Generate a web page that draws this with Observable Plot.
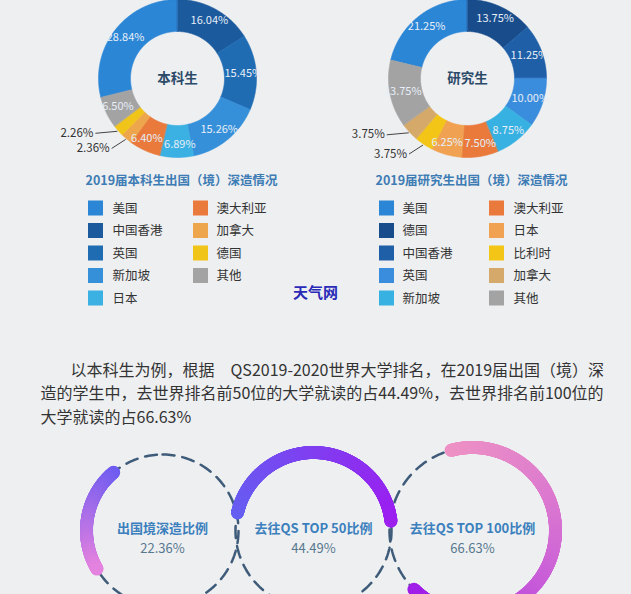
<!DOCTYPE html>
<html><head><meta charset="utf-8">
<script src="https://cdn.jsdelivr.net/npm/d3@7"></script>
<script src="https://cdn.jsdelivr.net/npm/@observablehq/plot@0.6"></script>
<style>
html,body{margin:0;padding:0;background:#eeeff1;overflow:hidden;}
</style>
</head><body><div id="chart"></div>
<script>
// ---------------- data ----------------
const ugCategories = ["美国","中国香港","英国","新加坡","日本","澳大利亚","加拿大","德国","其他"];
const ugValues = [28.84,16.04,15.45,15.26,6.89,6.40,2.36,2.26,6.50];
const pgCategories = ["美国","德国","中国香港","英国","新加坡","澳大利亚","日本","比利时","加拿大","其他"];
const pgValues = [21.25,13.75,11.25,10.00,8.75,7.50,6.25,3.75,3.75,13.75];
const donutTitles = ["本科生","研究生"];
const legendTitles = ["2019届本科生出国（境）深造情况","2019届研究生出国（境）深造情况"];
const paragraphLines = [
  "以本科生为例，根据　QS2019-2020世界大学排名，在2019届出国（境）深",
  "造的学生中，去世界排名前50位的大学就读的占44.49%，去世界排名前100位的",
  "大学就读的占66.63%"
];
const ratioLabels = ["出国境深造比例","去往QS TOP 50比例","去往QS TOP 100比例"];
const ratioValues = [22.36,44.49,66.63];
const watermark = ["天气网"];

// ---------------- styles ----------------
const ugColors = ["#2c86d6","#1b5a9d","#1f6cb3","#3590d9","#3bb0e2","#e97a3b","#eda64c","#f1c41a","#a3a3a3"];
const pgColors = ["#2c86d6","#184c8b","#1e5fa7","#3a8cdc","#37b1e1","#e97a3b","#f0a252","#f2c516","#d5a96a","#a3a3a3"];
const arcColors = [["#6d5cf1","#e482df"],["#6560f1","#9c1ff0"],["#ee92c4","#d674d4","#a11ee8"]];

// ---------------- layout ----------------
const W = 631, H = 594;
const R1 = 79, R0 = 47;
const donuts = [
  {cats: ugCategories, vals: ugValues, cols: ugColors, cx: 177, cy: 78, title: donutTitles[0], legend: legendTitles[0], lx: 85, sw: [88,193], tx: [112,216]},
  {cats: pgCategories, vals: pgValues, cols: pgColors, cx: 467, cy: 78, title: donutTitles[1], legend: legendTitles[1], lx: 375, sw: [379,489], tx: [402,513]}
];
const circleLayout = {cx: [162,313,472], cy: 530, r: [76,78,83], start: [320,-77,-15], dir: [-1,1,1]};

const segPts = [], inLabels = [], outLabels = [], leaders = [], swatches = [], legendText = [], centerText = [], legendHead = [];
donuts.forEach((d, di) => {
  const total = d3.sum(d.vals);
  let a = -d.vals[0] / total * 2 * Math.PI;
  const small = [], inner = [];
  d.cats.forEach((c, i) => {
    const a0 = a, a1 = a + d.vals[i] / total * 2 * Math.PI; a = a1;
    const n = Math.max(3, Math.ceil((a1 - a0) / 0.012));
    const key = di + "-" + i;
    for (let k = 0; k <= n; k++) { const t = a0 + (a1 - a0) * k / n; segPts.push({key, x: d.cx + R1 * Math.sin(t), y: d.cy - R1 * Math.cos(t), c: d.cols[i]}); }
    for (let k = n; k >= 0; k--) { const t = a0 + (a1 - a0) * k / n; segPts.push({key, x: d.cx + R0 * Math.sin(t), y: d.cy - R0 * Math.cos(t), c: d.cols[i]}); }
    const m = (a0 + a1) / 2, label = d.vals[i].toFixed(2) + "%";
    if (d.vals[i] >= 5) {
      const rm = (R0 + R1) / 2 + 3;
      inner.push({x: d.cx + rm * Math.sin(m), y: d.cy - rm * Math.cos(m), label});
    } else small.push({m, label});
    const col = i < 5 ? 0 : 1, row = i < 5 ? i : i - 5;
    const yc = 208 + row * 22.5;
    swatches.push({x1: d.sw[col], x2: d.sw[col] + 15, y1: yc - 7.5, y2: yc + 7.5, c: d.cols[i]});
    legendText.push({x: d.tx[col], y: yc, label: c});
  });
  // push apart inside labels that collide
  for (let p = 0; p < inner.length; p++) for (let q = p + 1; q < inner.length; q++) {
    const A = inner[p], B = inner[q];
    const dx = B.x - A.x, dy = B.y - A.y;
    if (Math.abs(dy) < 12 && Math.abs(dx) < 33) {
      const s = (33 - Math.abs(dx)) / 2 * (dx >= 0 ? 1 : -1);
      A.x -= s; B.x += s;
    }
  }
  inLabels.push(...inner);
  small.sort((p, q) => q.m - p.m).forEach((s, j) => {
    const px = d.cx + (R1 + 1) * Math.sin(s.m), py = d.cy - (R1 + 1) * Math.cos(s.m);
    const qx = px + (j === 0 ? -22 : -14), qy = py + (j === 0 ? 2 : 9);
    leaders.push({x1: px, y1: py, x2: qx, y2: qy});
    outLabels.push({x: qx - 2, y: qy, label: s.label});
  });
  centerText.push({x: d.cx, y: d.cy, label: d.title});
  legendHead.push({x: d.lx, y: 180, label: d.legend});
});

// bottom circles
const circles = ratioLabels.map((lab, i) => ({lab, v: ratioValues[i], cx: circleLayout.cx[i], cy: circleLayout.cy, r: circleLayout.r[i]}));
const dashPts = [], arcPts = [];
circles.forEach((c, i) => {
  for (let k = 0; k < 240; k++) {
    const t = k / 240 * 2 * Math.PI;
    dashPts.push({z: i, x: c.cx + c.r * Math.sin(t), y: c.cy - c.r * Math.cos(t)});
  }
  const span = c.v / 100 * 360;
  const interp = d3.interpolateRgbBasis(arcColors[i]);
  const n = Math.ceil(span / 0.4);
  for (let k = 0; k <= n; k++) {
    const deg = circleLayout.start[i] + circleLayout.dir[i] * span * k / n;
    const t = deg * Math.PI / 180;
    arcPts.push({x: c.cx + c.r * Math.sin(t), y: c.cy - c.r * Math.cos(t), c: interp(k / n)});
  }
});

const paraRows = paragraphLines.map((t, i) => ({t, x: i === 0 ? 70 : 40, y: 370 + i * 23.5}));

const chart = Plot.plot({
  width: W, height: H, margin: 0,
  x: {domain: [0, W], range: [0, W], axis: null},
  y: {domain: [0, H], range: [0, H], axis: null},
  color: {type: "identity"},
  style: {background: "#eeeff1", fontFamily: "'Noto Sans CJK SC', 'Noto Sans', sans-serif", overflow: "hidden"},
  marks: [
    // donuts
    Plot.line(segPts, {x: "x", y: "y", z: "key", fill: "c", stroke: "c", strokeWidth: 0.6, curve: "linear-closed"}),
    Plot.text(inLabels, {x: "x", y: "y", text: "label", fill: "#e6eef8", fontSize: 11}),
    Plot.link(leaders, {x1: "x1", y1: "y1", x2: "x2", y2: "y2", stroke: "#444", strokeWidth: 1}),
    Plot.text(outLabels, {x: "x", y: "y", text: "label", textAnchor: "end", fill: "#333", fontSize: 11.5}),
    Plot.text(centerText, {x: "x", y: "y", text: "label", fill: "#2b4a68", fontSize: 13.5, fontWeight: "bold"}),
    // legends
    Plot.text(legendHead, {x: "x", y: "y", text: "label", textAnchor: "start", fill: "#3d7cb4", fontSize: 12.5, fontWeight: "bold"}),
    Plot.rect(swatches, {x1: "x1", x2: "x2", y1: "y1", y2: "y2", fill: "c"}),
    Plot.text(legendText, {x: "x", y: "y", text: "label", textAnchor: "start", fill: "#333", fontSize: 12.5}),
    // watermark
    Plot.text(watermark, {x: () => 315, y: () => 293, text: d => d, fill: "#2a2ab8", fontSize: 15, fontWeight: "bold"}),
    // paragraph
    Plot.text(paraRows, {x: "x", y: "y", text: "t", textAnchor: "start", fill: "#333", fontSize: 16}),
    // bottom circles
    Plot.line(dashPts, {x: "x", y: "y", z: "z", stroke: "#3e5b79", strokeWidth: 2.5, strokeDasharray: "12,8", curve: "linear-closed"}),
    Plot.dot(arcPts, {x: "x", y: "y", r: 6.5, fill: "c", stroke: null}),
    Plot.text(circles, {x: "cx", y: d => d.cy - 2, text: "lab", fill: "#3b80bd", fontSize: 13, fontWeight: "bold"}),
    Plot.text(circles, {x: "cx", y: d => d.cy + 18, text: d => d.v.toFixed(2) + "%", fill: "#57788e", fontSize: 13})
  ]
});
document.getElementById("chart").appendChild(chart);
</script>
</body></html>
